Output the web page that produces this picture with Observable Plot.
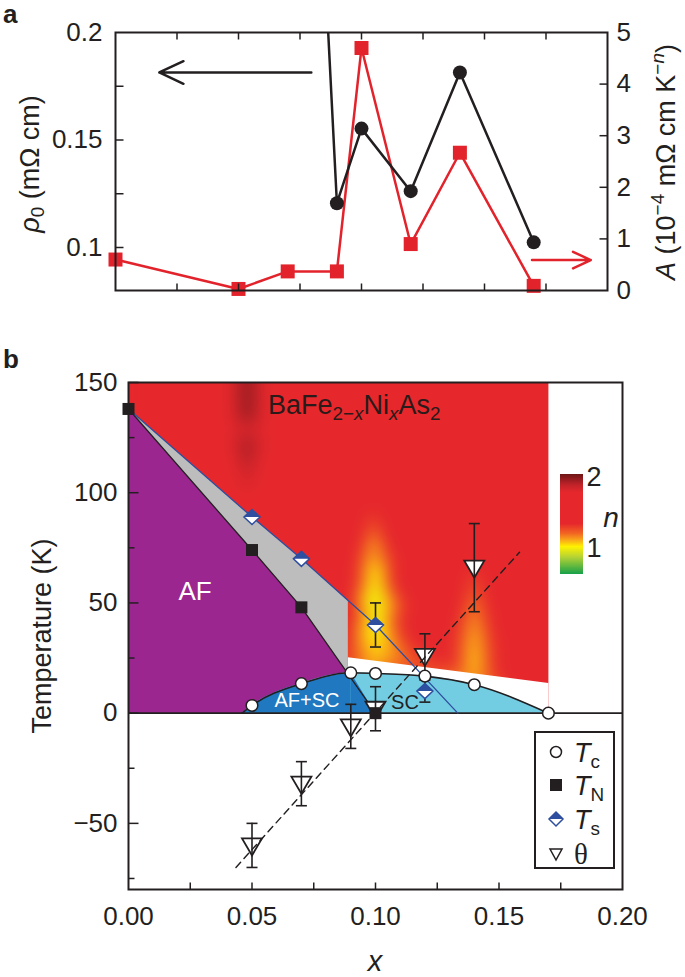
<!DOCTYPE html>
<html><head><meta charset="utf-8">
<script src="https://cdn.jsdelivr.net/npm/d3@7"></script>
<script src="https://cdn.jsdelivr.net/npm/@observablehq/plot@0.6"></script>
<style>
body{margin:0;background:#fff;}
#fig{position:relative;width:685px;height:977px;font-family:"Liberation Sans",Arial,sans-serif;color:#231f20;overflow:hidden;background:#fff}
#fig svg{position:absolute;left:0;}
.lbl{position:absolute;white-space:nowrap;line-height:1;}
.c{transform:translate(-50%,-50%);}
.rot{transform:translate(-50%,-50%) rotate(-90deg);}
.sb{font-size:70%;vertical-align:-0.3em;line-height:0;}
.sp{font-size:70%;vertical-align:0.55em;line-height:0;}
</style></head>
<body><div id="fig"></div>
<script>
// ---------------- Panel a data ----------------
const xDoping = [0, 0.05, 0.07, 0.09, 0.10, 0.12, 0.14, 0.17];
const coeffA = [0.60, 0.03, 0.37, 0.37, 4.70, 0.90, 2.67, 0.09];
const xRho = [0.07, 0.09, 0.10, 0.12, 0.14, 0.17];
const rho0 = [0.57, 0.1206, 0.1553, 0.1262, 0.1814, 0.1024];
const rhoTickLabels = [0.1, 0.15, 0.2];
const rhoInnerTicks = [0.1, 0.125, 0.15, 0.175];
const aTickLabels = [0, 1, 2, 3, 4, 5];
const aInnerTicks = [1, 2, 3, 4];
const xInnerTicks = [0.025, 0.05, 0.075, 0.1, 0.125, 0.15, 0.175];
const arrowRho = [{x1: 0.0796, x2: 0.0178, y: 0.1814}];
const arrowA = [{x1: 0.1693, x2: 0.1932, y: 0.59}];

// ---------------- Panel b data ----------------
const xTc = [0.05, 0.07, 0.09, 0.10, 0.12, 0.14, 0.17];
const tc = [3.5, 13.4, 18.3, 18.0, 16.8, 12.9, 0];
const xTN = [0, 0.05, 0.07, 0.10];
const tn = [138, 74, 48, 0];
const xTs = [0.05, 0.07, 0.10, 0.12];
const ts = [89, 70, 40, 10];
const tsErr = [0, 0, 10, 5];
const xTheta = [0.05, 0.07, 0.09, 0.10, 0.12, 0.14];
const theta = [-60, -32, -6, 2, 26, 66];
const thetaErr = [10, 10, 10, 10, 10, 20];
const tsLineX = [0, 0.05, 0.07, 0.10, 0.1333];
const tsLineY = [138, 89, 70, 40, 0];
const thetaFitX = [0.0435, 0.1583];
const thetaFitY = [-70, 73];
const domeX = [0.046, 0.05, 0.07, 0.09, 0.10, 0.12, 0.14, 0.17];
const domeY = [0, 3.5, 13.4, 18.3, 18.0, 16.8, 12.9, 0];
const afscDomeCount = 4;
const afscWedgeX = [0.09, 0.10];
const afscWedgeY = [18.3, 0];
const grayX = [0, 0.05, 0.07, 0.0888, 0.0888, 0];
const grayY = [138, 89, 70, 51, 0, 0];
const afX = [0, 0.05, 0.07, 0.10, 0];
const afY = [138, 74, 48, 0, 0];
const gapX = [0.0888, 0.17, 0.17, 0.0888];
const gapY = [25.4, 13.7, 0, 0];
const mapXExtent = [0, 0.17];
const mapYExtent = [0, 150];
// exponent n: [x, T, n]
const nBackground = [
  [0,150,1.62],[0.02,150,1.6],[0.036,150,1.62],[0.042,150,1.78],[0.048,150,1.95],[0.054,150,1.78],[0.06,150,1.62],[0.08,150,1.62],[0.09,150,1.66],[0.1,150,1.6],[0.12,150,1.55],[0.14,150,1.5],[0.17,150,1.5],
  [0.042,130,1.76],[0.048,135,1.95],[0.054,130,1.76],
  [0,120,1.56],[0.036,120,1.6],[0.048,120,1.92],[0.06,120,1.6],[0.08,120,1.6],[0.1,120,1.55],[0.12,120,1.5],[0.14,120,1.5],[0.17,120,1.5],
  [0.042,108,1.68],[0.048,105,1.82],[0.054,108,1.68],[0.048,95,1.68],[0.036,100,1.58],[0.06,100,1.58],[0.07,90,1.56],
  [0,0,1.55],[0.17,0,1.45],[0.0888,0,1.3]
];
const nFlameA = [
  [0.098,104,1.52],[0.0985,95,1.35],[0.099,86,1.2],[0.0995,76,1.08],[0.1,66,1.0],[0.1,55,0.96],[0.1,45,0.96],[0.1,35,0.98],[0.1,27,1.05],
  [0.096,70,1.15],[0.104,70,1.2],[0.095,50,1.05],[0.105,50,1.08],[0.094,35,1.12],[0.106,35,1.12],
  [0.092,85,1.55],[0.106,85,1.55],[0.091,60,1.35],[0.109,60,1.4],[0.0895,40,1.3],[0.111,40,1.35],[0.089,27,1.28],[0.112,26,1.2],
  [0.0888,45,1.45],[0.0888,32,1.35],[0.116,62,1.56],[0.117,42,1.5],
  [0.115,24,1.22],[0.12,21,1.25],[0.125,28,1.38],[0.13,19,1.25]
];
const nFlameB = [
  [0.14,88,1.52],[0.14,76,1.38],[0.14,62,1.25],[0.14,48,1.15],[0.14,34,1.08],[0.14,22,1.05],[0.14,16,1.1],
  [0.134,60,1.45],[0.146,60,1.45],[0.133,35,1.3],[0.147,35,1.3],[0.127,45,1.56],[0.153,45,1.56],[0.132,20,1.3],[0.148,18,1.3],
  [0.16,40,1.5],[0.17,40,1.5],[0.16,16,1.42],[0.17,14,1.46],[0.17,90,1.5],[0.12,90,1.55],[0.12,50,1.56]
];
const nStops = [0.65, 0.88, 1.02, 1.11, 1.2, 1.33, 1.75, 1.85, 2.0];
const nColors = ["#17a04a", "#b5d334", "#fff200", "#f9a61a", "#f26522", "#e6282c", "#e6282c", "#c2232a", "#6e1616"];
const tempLabels = [-50, 0, 50, 100, 150];
const tempMinor = [-75, -25, 25, 75, 125];
const xLabels = [0, 0.05, 0.10, 0.15, 0.20];

// ---------------- helpers ----------------
const INK = "#231f20", RED = "#e3232b", BLUE = "#2e4ea0";
const zip = (xs, ys) => xs.map((x, i) => ({x, y: ys[i]}));
const seg = (dx, dy) => ({draw(ctx, size) { const l = Math.sqrt(size / Math.PI); ctx.moveTo(0, 0); ctx.lineTo(dx * l, dy * l); }});
const hbar = {draw(ctx, size) { const l = Math.sqrt(size / Math.PI); ctx.moveTo(-l, 0); ctx.lineTo(l, 0); }};
const downTri = {draw(ctx) { ctx.moveTo(-10, -7); ctx.lineTo(10, -7); ctx.lineTo(0, 10); ctx.closePath(); }};
const sq = s => ({draw(ctx) { ctx.rect(-s, -s, 2 * s, 2 * s); }});
const diamondFull = {draw(ctx) { ctx.moveTo(0, -7.5); ctx.lineTo(8, 0); ctx.lineTo(0, 7.5); ctx.lineTo(-8, 0); ctx.closePath(); }};
const diamondTop = {draw(ctx) { ctx.moveTo(-8, 0); ctx.lineTo(0, -7.5); ctx.lineTo(8, 0); ctx.closePath(); }};
const baseStyle = {background: "transparent", fontFamily: "'Liberation Sans', Arial, sans-serif", fontSize: "26px", color: INK, overflow: "visible"};

const fig = document.getElementById("fig");

// ---------------- Panel a ----------------
const dimsA = {width: 685, height: 330, marginLeft: 115, marginRight: 78, marginTop: 32, marginBottom: 40, style: baseStyle};
const aPts = zip(xDoping, coeffA);
const plotA = Plot.plot({
  ...dimsA,
  x: {domain: [0, 0.2], axis: null},
  y: {domain: [0, 5], axis: null},
  marks: [
    Plot.axisY(aTickLabels, {anchor: "right", tickSize: 0, tickPadding: 9, label: null, tickFormat: d => String(d)}),
    Plot.dot(aInnerTicks, {y: d => d, frameAnchor: "right", symbol: seg(-1, 0), r: 8, stroke: INK, strokeWidth: 1.5}),
    Plot.line(aPts, {x: "x", y: "y", stroke: RED, strokeWidth: 2.5}),
    Plot.dot(aPts, {x: "x", y: "y", symbol: sq(7), fill: RED}),
    Plot.arrow(arrowA, {x1: "x1", x2: "x2", y1: "y", y2: "y", stroke: RED, strokeWidth: 2.5, headLength: 15, headAngle: 50})
  ]
});
plotA.style.top = "0px";
fig.appendChild(plotA);

const rPts = zip(xRho, rho0);
const plotR = Plot.plot({
  ...dimsA,
  x: {domain: [0, 0.2], axis: null},
  y: {domain: [0.08, 0.2], axis: null},
  marks: [
    Plot.axisY(rhoTickLabels, {anchor: "left", tickSize: 0, tickPadding: 13, label: null, tickFormat: d => String(d)}),
    Plot.dot(rhoInnerTicks, {y: d => d, frameAnchor: "left", symbol: seg(1, 0), r: 8, stroke: INK, strokeWidth: 1.5}),
    Plot.dot(xInnerTicks, {x: d => d, frameAnchor: "bottom", symbol: seg(0, -1), r: 7, stroke: INK, strokeWidth: 1.5}),
    Plot.dot(xInnerTicks, {x: d => d, frameAnchor: "top", symbol: seg(0, 1), r: 7, stroke: INK, strokeWidth: 1.5}),
    Plot.line(rPts, {x: "x", y: "y", stroke: INK, strokeWidth: 2.5, clip: true}),
    Plot.dot(rPts, {x: "x", y: "y", r: 7, fill: INK, clip: true}),
    Plot.arrow(arrowRho, {x1: "x1", x2: "x2", y1: "y", y2: "y", stroke: INK, strokeWidth: 2.5, headLength: 16, headAngle: 50}),
    Plot.frame({stroke: INK, strokeWidth: 2})
  ]
});
plotR.style.top = "0px";
fig.appendChild(plotR);

// ---------------- Panel b ----------------
const tcPts = zip(xTc, tc), tnPts = zip(xTN, tn);
const tsPts = xTs.map((x, i) => ({x, y: ts[i], e: tsErr[i]}));
const thPts = xTheta.map((x, i) => ({x, y: theta[i], e: thetaErr[i]}));
const errPts = [...thPts, ...tsPts.filter(d => d.e > 0)];
const domePts = zip(domeX, domeY);
const nSamples = [...nBackground, ...nFlameA, ...nFlameB];
const plotB = Plot.plot({
  width: 685, height: 637, marginTop: 42, marginBottom: 88, marginLeft: 128, marginRight: 63,
  style: baseStyle,
  x: {domain: [0, 0.2], axis: null},
  y: {domain: [-80, 150], axis: null},
  color: {type: "linear", domain: nStops, range: nColors, interpolate: "rgb", clamp: true},
  marks: [
    Plot.raster(nSamples, {x: d => d[0], y: d => d[1], fill: d => d[2], x1: mapXExtent[0], x2: mapXExtent[1], y1: mapYExtent[0], y2: mapYExtent[1], interpolate: "barycentric", blur: 7}),
    Plot.line(zip(gapX, gapY), {x: "x", y: "y", fill: "white", stroke: "none"}),
    Plot.line(zip(grayX, grayY), {x: "x", y: "y", fill: "#bdbdbd", stroke: "none"}),
    Plot.line(zip(afX, afY), {x: "x", y: "y", fill: "#9b268f", stroke: "none"}),
    Plot.areaY(domePts, {x: "x", y: "y", fill: "#72cde2", curve: "monotone-x"}),
    Plot.areaY(domePts.slice(0, afscDomeCount), {x: "x", y: "y", fill: "#1f78c0", curve: "monotone-x"}),
    Plot.areaY(zip(afscWedgeX, afscWedgeY), {x: "x", y: "y", fill: "#1f78c0"}),
    Plot.ruleY([0], {stroke: INK, strokeWidth: 1.6}),
    Plot.line(domePts, {x: "x", y: "y", curve: "monotone-x", stroke: INK, strokeWidth: 1.6}),
    Plot.line(tnPts, {x: "x", y: "y", stroke: INK, strokeWidth: 1.3}),
    Plot.line(zip(tsLineX, tsLineY), {x: "x", y: "y", stroke: BLUE, strokeWidth: 1.3}),
    Plot.dot(thPts, {x: "x", y: "y", symbol: downTri, fill: "white", stroke: INK, strokeWidth: 1.8}),
    Plot.line(zip(thetaFitX, thetaFitY), {x: "x", y: "y", stroke: INK, strokeWidth: 1.4, strokeDasharray: "7,5"}),
    Plot.ruleX(errPts, {x: "x", y1: d => d.y - d.e, y2: d => d.y + d.e, stroke: INK, strokeWidth: 1.6}),
    Plot.dot(errPts, {x: "x", y: d => d.y - d.e, symbol: hbar, r: 5.5, stroke: INK, strokeWidth: 1.6}),
    Plot.dot(errPts, {x: "x", y: d => d.y + d.e, symbol: hbar, r: 5.5, stroke: INK, strokeWidth: 1.6}),
    Plot.dot(tcPts, {x: "x", y: "y", r: 5.8, fill: "white", stroke: INK, strokeWidth: 1.5}),
    Plot.dot(tnPts, {x: "x", y: "y", symbol: sq(6), fill: INK}),
    Plot.dot(tsPts, {x: "x", y: "y", symbol: diamondFull, fill: "white", stroke: BLUE, strokeWidth: 1.5}),
    Plot.dot(tsPts, {x: "x", y: "y", symbol: diamondTop, fill: BLUE}),
    Plot.frame({stroke: INK, strokeWidth: 2}),
    Plot.axisY(tempLabels, {anchor: "left", tickSize: 0, tickPadding: 11, label: null}),
    Plot.axisX(xLabels, {anchor: "bottom", tickSize: 0, tickPadding: 17, label: null, tickFormat: d3.format(".2f")}),
    Plot.dot(tempLabels, {y: d => d, frameAnchor: "left", symbol: seg(1, 0), r: 10, stroke: INK, strokeWidth: 1.5}),
    Plot.dot(tempMinor, {y: d => d, frameAnchor: "left", symbol: seg(1, 0), r: 6, stroke: INK, strokeWidth: 1.5}),
    Plot.dot(xInnerTicks, {x: d => d, frameAnchor: "bottom", symbol: seg(0, -1), r: 7, stroke: INK, strokeWidth: 1.5})
  ]
});
plotB.style.top = "340px";
fig.appendChild(plotB);

// ---------------- text, legend, colour bar ----------------
const grad = nStops.map((v, i) => `${nColors[i]} ${((v - nStops[0]) / (nStops[nStops.length - 1] - nStops[0]) * 100).toFixed(1)}%`).join(",");
const html = `
<div class="lbl" style="left:3px;top:1px;font-size:26px;font-weight:bold">a</div>
<div class="lbl" style="left:3px;top:346px;font-size:26px;font-weight:bold">b</div>
<div class="lbl rot" style="left:30px;top:164px;font-size:27px"><i>ρ</i><span class="sb">0</span> (mΩ cm)</div>
<div class="lbl rot" style="left:666px;top:162px;font-size:27px"><i>A</i> (10<span class="sp">−4</span> mΩ cm K<span class="sp">−<i>n</i></span>)</div>
<div class="lbl rot" style="left:42px;top:636px;font-size:27px">Temperature (K)</div>
<div class="lbl c" style="left:375px;top:961px;font-size:29px"><i>x</i></div>
<div class="lbl" style="left:268px;top:392px;font-size:27px;color:#2a1a1a">BaFe<span class="sb">2−<i>x</i></span>Ni<span class="sb"><i>x</i></span>As<span class="sb">2</span></div>
<div class="lbl c" style="left:195px;top:591px;font-size:26px;color:#fff">AF</div>
<div class="lbl c" style="left:307px;top:700px;font-size:20px;color:#fff">AF+SC</div>
<div class="lbl c" style="left:405px;top:702px;font-size:20px;color:#222">SC</div>
<div style="position:absolute;left:560px;top:474px;width:23px;height:100px;background:linear-gradient(to top,${grad})"></div>
<div class="lbl c" style="left:594px;top:477px;font-size:27px">2</div>
<div class="lbl c" style="left:594px;top:548px;font-size:27px">1</div>
<div class="lbl c" style="left:611px;top:518px;font-size:28px"><i>n</i></div>
<div style="position:absolute;left:534px;top:731px;width:77px;height:134px;border:2px solid ${INK};background:#fff"></div>
<svg style="position:absolute;left:534px;top:731px;overflow:visible" width="80" height="140">
  <circle cx="22" cy="21" r="5.5" fill="#fff" stroke="${INK}" stroke-width="1.5"/>
  <rect x="16" y="48" width="12" height="12" fill="${INK}"/>
  <path d="M22,81 L29,88 L22,95 L15,88 Z" fill="#fff" stroke="${BLUE}" stroke-width="1.5"/>
  <path d="M15,88 L22,81 L29,88 Z" fill="${BLUE}"/>
  <path d="M16,118 L28,118 L22,129 Z" fill="#fff" stroke="${INK}" stroke-width="1.5"/>
</svg>
<div class="lbl" style="left:574px;top:740px;font-size:27px"><i>T</i><span class="sb">c</span></div>
<div class="lbl" style="left:574px;top:773px;font-size:27px"><i>T</i><span class="sb">N</span></div>
<div class="lbl" style="left:574px;top:807px;font-size:27px"><i>T</i><span class="sb">s</span></div>
<div class="lbl" style="left:574px;top:840px;font-size:29px;font-family:'Liberation Serif','DejaVu Serif',serif">θ</div>
`;
fig.insertAdjacentHTML("beforeend", html);
</script>
</body></html>
